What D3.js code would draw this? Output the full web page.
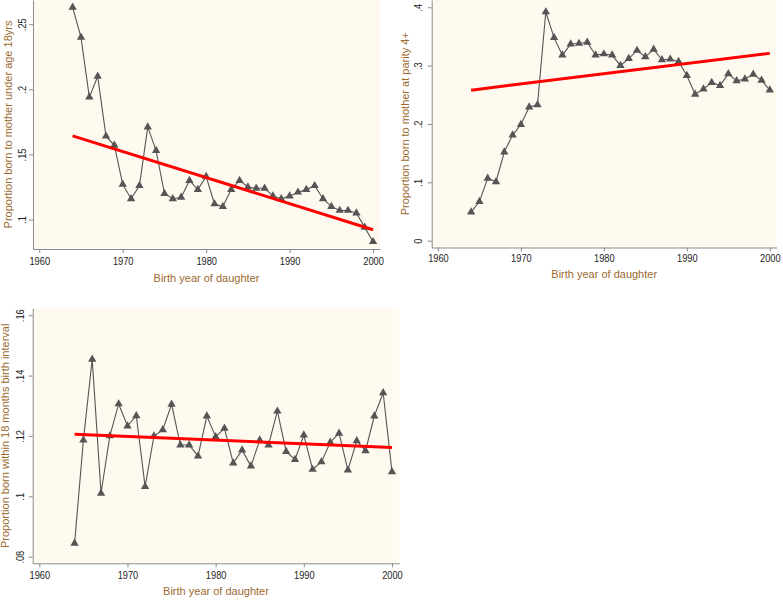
<!DOCTYPE html>
<html>
<head>
<meta charset="utf-8">
<script src="https://cdn.jsdelivr.net/npm/d3@7"></script>
<style>
  body { margin: 0; background: #fff; }
  svg { display: block; font-family: "Liberation Sans", Arial, sans-serif; }
</style>
</head>
<body>
<div id="chart"></div>
<script>
// birth cohorts shown on every panel
const years = [1964, 1965, 1966, 1967, 1968, 1969, 1970, 1971, 1972, 1973,
  1974, 1975, 1976, 1977, 1978, 1979, 1980, 1981, 1982, 1983,
  1984, 1985, 1986, 1987, 1988, 1989, 1990, 1991, 1992, 1993,
  1994, 1995, 1996, 1997, 1998, 1999, 2000]

// proportion born to mother under age 18
const underAge18 = [0.263, 0.240, 0.194, 0.210, 0.164, 0.157, 0.127, 0.116, 0.126, 0.171,
  0.153, 0.120, 0.116, 0.117, 0.130, 0.123, 0.133, 0.112, 0.110, 0.123,
  0.130, 0.125, 0.124, 0.124, 0.118, 0.116, 0.118, 0.121, 0.123, 0.126,
  0.116, 0.110, 0.107, 0.107, 0.105, 0.094, 0.083]

// proportion born to mother at parity 4+
const parity4 = [0.049, 0.067, 0.107, 0.101, 0.152, 0.181, 0.199, 0.229, 0.233, 0.392,
  0.348, 0.318, 0.337, 0.338, 0.340, 0.318, 0.320, 0.318, 0.300, 0.312,
  0.326, 0.315, 0.328, 0.310, 0.311, 0.307, 0.283, 0.251, 0.260, 0.271,
  0.266, 0.286, 0.274, 0.277, 0.285, 0.275, 0.258]

// proportion born within 18 months birth interval
const shortInterval = [0.0844, 0.1186, 0.1454, 0.1010, 0.1200, 0.1306, 0.1233, 0.1267, 0.1032, 0.1200,
  0.1220, 0.1305, 0.1170, 0.1170, 0.1133, 0.1266, 0.1197, 0.1225, 0.1110, 0.1153,
  0.1100, 0.1186, 0.1170, 0.1282, 0.1148, 0.1122, 0.1203, 0.1089, 0.1114, 0.1179,
  0.1209, 0.1087, 0.1184, 0.1151, 0.1266, 0.1343, 0.1081]

// linear fit end points
const fitYears = [1964, 2000]
const fitUnderAge18 = [0.1643, 0.0922]
const fitParity4 = [0.258, 0.321]
const fitShortInterval = [0.1206, 0.1162]

// axis ticks
const xTicks = [1960, 1970, 1980, 1990, 2000]
const yTicksUnderAge18 = [0.1, 0.15, 0.2, 0.25]
const yLabelsUnderAge18 = [".1", ".15", ".2", ".25"]
const yTicksParity4 = [0, 0.1, 0.2, 0.3, 0.4]
const yLabelsParity4 = ["0", ".1", ".2", ".3", ".4"]
const yTicksShortInterval = [0.08, 0.1, 0.12, 0.14, 0.16]
const yLabelsShortInterval = [".08", ".1", ".12", ".14", ".16"]

const xTitle = "Birth year of daughter"

const W = 783, H = 600
const titleColor = "#9b6a30"
const lineColor = "#555"
const fitColor = "#ff0000"

const svg = d3.select("#chart").append("svg")
  .attr("width", W)
  .attr("height", H)

const panels = [
  {
    box: { x: 33, y: 0, w: 347, h: 249 },
    yDomain: [0.0774, 0.2686],
    values: underAge18, fit: fitUnderAge18,
    yTicks: yTicksUnderAge18, yLabels: yLabelsUnderAge18,
    yTitle: "Proportion born to mother under age 18yrs",
    yTickOff: 7, yTitleX: 11.5, xTickY: 16, xTitleY: 33
  },
  {
    box: { x: 431.7, y: 0, w: 345, h: 247.5 },
    yDomain: [-0.0117, 0.4125],
    values: parity4, fit: fitParity4,
    yTicks: yTicksParity4, yLabels: yLabelsParity4,
    yTitle: "Proportion born to mother at parity 4+",
    yTickOff: 9.5, yTitleX: 408.5, xTickY: 14.5, xTitleY: 30.5
  },
  {
    box: { x: 32.7, y: 308.3, w: 366.6, h: 255 },
    yDomain: [0.0778, 0.1623],
    values: shortInterval, fit: fitShortInterval,
    yTicks: yTicksShortInterval, yLabels: yLabelsShortInterval,
    yTitle: "Proportion born within 18 months birth interval",
    yTickOff: 8.5, yTitleX: 9, xTickY: 16, xTitleY: 32
  }
]

const squeeze = function () {
  // tick labels in the original are a little narrower than plain Arial
  const w = this.getComputedTextLength()
  d3.select(this)
    .attr("textLength", w * 0.84)
    .attr("lengthAdjust", "spacingAndGlyphs")
}

panels.forEach(p => {
  const { box } = p

  const x = d3.scaleLinear()
    .domain([1959.25, 2000.83])
    .range([0, box.w])
  const y = d3.scaleLinear()
    .domain(p.yDomain)
    .range([box.h, 0])

  const g = svg.append("g")
    .attr("transform", `translate(${box.x},${box.y})`)

  g.append("rect")
    .attr("width", box.w)
    .attr("height", box.h)
    .attr("fill", "#fefaef")

  // x axis
  const xAxis = g.append("g")
    .attr("transform", `translate(0,${box.h})`)
    .call(d3.axisBottom(x).tickValues(xTicks).tickFormat(d3.format("d")).tickSize(4).tickSizeOuter(0))
  xAxis.selectAll("text")
    .attr("y", p.xTickY)
    .attr("dy", 0)
    .attr("font-size", 11)
    .attr("fill", "#222")
    .each(squeeze)

  // y axis
  const yAxis = g.append("g")
    .call(d3.axisLeft(y).tickValues(p.yTicks).tickFormat((d, i) => p.yLabels[i]).tickSize(4).tickSizeOuter(0))
  yAxis.selectAll("text")
    .attr("transform", "rotate(-90)")
    .attr("x", 0)
    .attr("y", -p.yTickOff)
    .attr("dy", 0)
    .attr("text-anchor", "middle")
    .attr("font-size", 11)
    .attr("fill", "#222")
    .each(squeeze)

  g.selectAll(".domain, .tick line").attr("stroke", "#8c8c8c")

  // titles
  g.append("text")
    .attr("x", box.w / 2)
    .attr("y", box.h + p.xTitleY)
    .attr("text-anchor", "middle")
    .attr("font-size", 11)
    .attr("fill", titleColor)
    .text(xTitle)

  svg.append("text")
    .attr("transform", `translate(${p.yTitleX},${box.y + box.h / 2}) rotate(-90)`)
    .attr("text-anchor", "middle")
    .attr("font-size", 11)
    .attr("fill", titleColor)
    .text(p.yTitle)

  // series
  const pts = years.map((yr, i) => [yr, p.values[i]])

  g.append("path")
    .datum(pts)
    .attr("fill", "none")
    .attr("stroke", lineColor)
    .attr("stroke-width", 1.1)
    .attr("d", d3.line().x(d => x(d[0])).y(d => y(d[1])))

  g.append("g")
    .selectAll("path")
    .data(pts)
    .join("path")
    .attr("transform", d => `translate(${x(d[0])},${y(d[1])})`)
    .attr("d", d3.symbol().type(d3.symbolTriangle).size(30))
    .attr("fill", lineColor)

  // fitted line
  g.append("line")
    .attr("x1", x(fitYears[0]))
    .attr("y1", y(p.fit[0]))
    .attr("x2", x(fitYears[1]))
    .attr("y2", y(p.fit[1]))
    .attr("stroke", fitColor)
    .attr("stroke-width", 3)
})
</script>
</body>
</html>
